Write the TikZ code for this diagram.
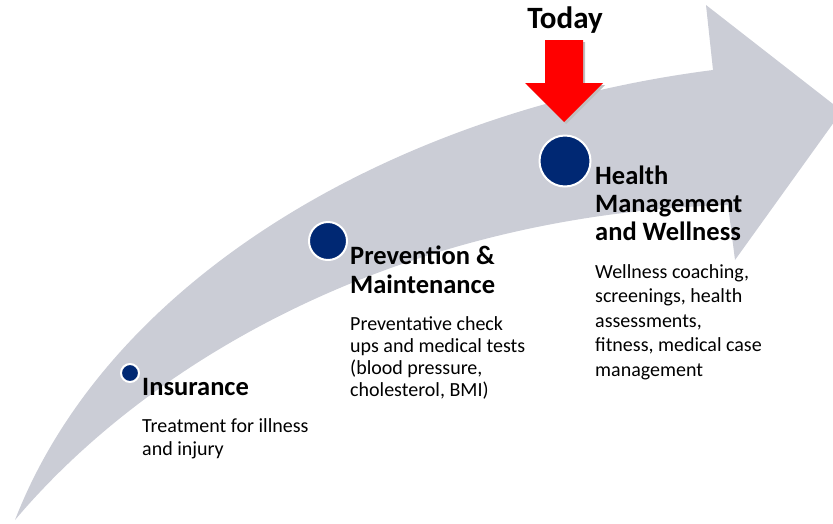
\documentclass[tikz,border=0pt]{standalone}
\usepackage{fontspec}
\setmainfont{Carlito}
\definecolor{bandgray}{RGB}{203,205,214}
\definecolor{navy}{RGB}{0,40,115}

\begin{document}
\begin{tikzpicture}[x=1pt,y=-1pt,
                    dot/.style={circle,fill=navy,draw=white,line width=2pt,inner sep=0pt},
                    head/.style={anchor=base west,inner sep=0pt,align=left,font=\fontsize{26.5}{28.5}\bfseries\selectfont},
                    body/.style={anchor=base west,inner sep=0pt,align=left,font=\fontsize{20}{23}\selectfont}
                   ]
  \useasboundingbox (0,0) rectangle (833,523);

  \fill[bandgray] (15,520) .. controls (110,275) and (400,110) .. (713,70)
       -- (706,5) -- (842,111) -- (735,260) -- (728,205)
       .. controls (400,215) and (150,360) .. (15,520) -- cycle;

  \node[dot,minimum size=18pt] (1) at (130,373) {};
  \node[dot,minimum size=38pt] (2) at (328,241) {};
  \node[dot,minimum size=51pt] (3) at (565,161) {};

  \node[head] (ins) at (142,395) {Insurance};
  \node[body] (insb) at (142,455) {Treatment for illness\\and injury};

  \node[head,font=\fontsize{26.5}{29}\bfseries\selectfont] (prev) at (350,293) {Prevention \&\\Maintenance};
  \node[body,font=\fontsize{20}{22}\selectfont] (prevb) at (350,396) {Preventative check\\ups and medical tests\\(blood pressure,\\cholesterol, BMI)};

  \node[head,font=\fontsize{26.5}{28}\bfseries\selectfont] (hlth) at (595,240) {Health\\Management\\and Wellness};
  \node[body,font=\fontsize{20}{24.5}\selectfont] (hlthb) at (595,376) {Wellness coaching,\\screenings, health\\assessments,\\fitness, medical case\\management};

  \node[anchor=base,inner sep=0pt,font=\fontsize{31}{34}\bfseries\selectfont] (today) at (565,28) {Today};
  \fill[black!25] (547,42) -- (585,42) -- (585,85) -- (605,85) -- (566,124) -- (527,85) -- (547,85) -- cycle;
  \fill[red] (545,40) -- (583,40) -- (583,83) -- (603,83) -- (564,122) -- (525,83) -- (545,83) -- cycle;
\end{tikzpicture}
\end{document}
